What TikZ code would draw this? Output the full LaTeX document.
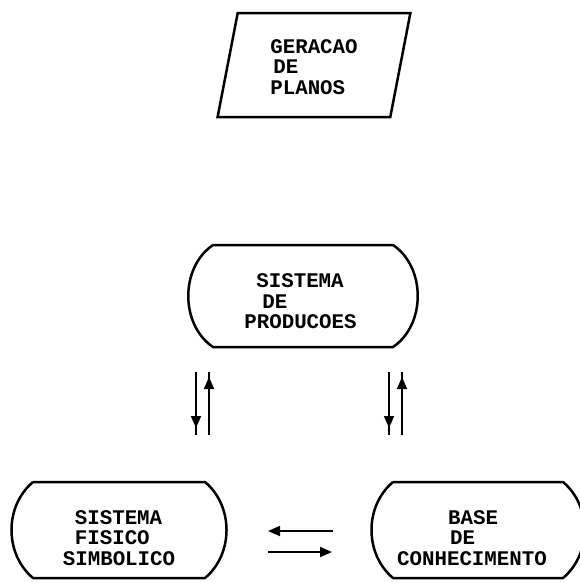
\documentclass[tikz,border=0pt]{standalone}
\usepackage{fontspec}
\setmonofont{Liberation Mono}
\usetikzlibrary{calc, positioning, shapes.geometric, arrows.meta, decorations.markings}

% box with straight top/bottom and bulging sides
\newcommand{\sidebox}[2]{\draw[outline] (#1.north west) -- (#1.north east) to[bend left=#2] (#1.south east) -- (#1.south west) to[bend left=#2] (#1.north west);}

\begin{document}
\begin{tikzpicture}[
    x=1pt, y=-1pt,
    every node/.style={font=\fontsize{20.8}{20.5}\selectfont\ttfamily\bfseries, align=left, inner sep=0pt, outer sep=0pt},
    planbox/.style={draw, line width=2.5pt, trapezium, trapezium left angle=79, trapezium right angle=101, trapezium stretches=true, minimum width=193pt, minimum height=104pt},
    procbox/.style={minimum width=#1, minimum height=96pt},
    outline/.style={line width=2.5pt, line join=round},
    hflow/.style={-{Triangle[length=12pt, width=10pt]}, line width=1.8pt},
    vflow/.style={line width=1.8pt, postaction={decorate, decoration={markings, mark=at position #1 with {\arrow{Triangle[length=12pt, width=10pt]}}}}}
]
\useasboundingbox (0,0) rectangle (580,582);

\node[planbox] (plan) at (314,65) {\rule{0pt}{18pt}GERACAO\\\hspace{3pt}DE\\PLANOS};
\node[procbox=180pt, minimum height=102pt, below=128pt of plan, xshift=-11pt] (prod) {\rule{0pt}{25pt}\hspace{12pt}SISTEMA\\\hspace{18pt}DE\\PRODUCOES\hspace*{5pt}};
\node[procbox=172pt, below=135pt of prod, xshift=-184pt] (phys) {\rule{0pt}{30pt}\hspace{12pt}SISTEMA\\\hspace{12pt}FISICO\\SIMBOLICO};
\node[procbox=170pt, right=188pt of phys] (base) {\rule{0pt}{30pt}\hspace{51pt}BASE\\\hspace{53pt}DE\\CONHECIMENTO\hspace*{12pt}};

\sidebox{prod}{56}
\sidebox{phys}{50}
\sidebox{base}{50}

% pairs between the production system and the lower boxes
\draw[vflow=-7pt] ($(prod.south west)+(-17,25)$) -- ($(phys.north east)+(-9,-47)$);
\draw[vflow=-5pt] ($(phys.north east)+(4,-47)$) -- ($(prod.south west)+(-4,25)$);
\draw[vflow=-7pt] ($(prod.south east)+(-4,25)$) -- ($(base.north west)+(-4,-47)$);
\draw[vflow=-5pt] ($(base.north west)+(9,-47)$) -- ($(prod.south east)+(9,25)$);

\draw[hflow] ($(base.west)+(-60,1)$) -- ($(phys.east)+(63,1)$);
\draw[hflow] ($(phys.east)+(63,22)$) -- ($(base.west)+(-61,22)$);
\end{tikzpicture}
\end{document}
